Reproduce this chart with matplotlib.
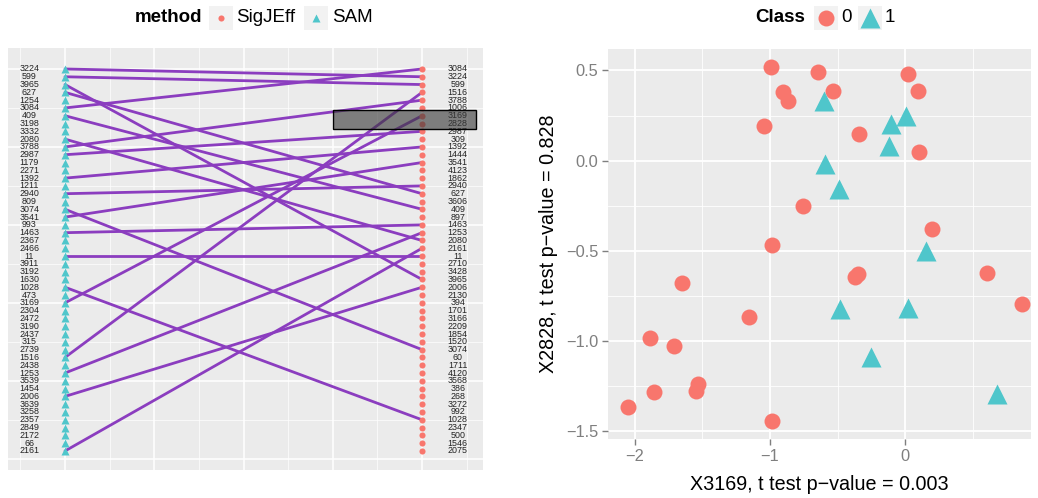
import matplotlib
matplotlib.use("Agg")
import matplotlib.pyplot as plt
from matplotlib.patches import Rectangle
import numpy as np

plt.rcParams['font.family'] = ['Liberation Sans', 'DejaVu Sans']

# ---------------- data ----------------
sam_ranks = [3224, 599, 3965, 627, 1254, 3084, 409, 3198, 3332, 2080, 3788, 2987, 1179,
             2271, 1392, 1211, 2940, 809, 3074, 3541, 993, 1463, 2367, 2466, 11, 3911,
             3192, 1630, 1028, 473, 3169, 2304, 2472, 3190, 2437, 315, 2739, 1516, 2438,
             1253, 3539, 1454, 2006, 3639, 3258, 2357, 2849, 2172, 66, 2161]
sigjeff_ranks = [3084, 3224, 599, 1516, 3788, 1006, 3169, 2828, 2987, 309, 1392, 1444,
                 3541, 4123, 1862, 2940, 627, 3606, 409, 897, 1463, 1253, 2080, 2161, 11,
                 2710, 3428, 3965, 2006, 2130, 394, 1701, 3166, 2209, 1854, 1520, 3074, 60,
                 1711, 4120, 3568, 386, 268, 3272, 992, 1028, 2347, 500, 1546, 2075]
highlight_genes = [3169, 2828]

class0_x = [-0.995, -0.902, -0.865, -1.044, -0.987, -0.643, -0.532, 0.020, 0.092, -0.340,
            0.099, -0.758, 0.200, -1.648, -1.153, -1.887, -1.710, -1.534, -1.547, -1.857,
            -2.052, -0.985, -0.370, -0.350, 0.604, 0.863]
class0_y = [0.517, 0.382, 0.332, 0.191, -0.467, 0.493, 0.388, 0.480, 0.386, 0.150,
            0.047, -0.251, -0.380, -0.679, -0.868, -0.981, -1.027, -1.237, -1.274, -1.281,
            -1.366, -1.442, -0.645, -0.630, -0.624, -0.796]
class1_x = [-0.603, -0.103, 0.007, -0.118, -0.596, -0.492, 0.153, -0.480, 0.022, -0.251, 0.680]
class1_y = [0.332, 0.203, 0.248, 0.083, -0.017, -0.159, -0.499, -0.823, -0.814, -1.086, -1.292]

x_title = "X3169, t test p\u2212value = 0.003"
y_title = "X2828, t test p\u2212value = 0.828"

RED = '#F8766D'
CYAN = '#4FC6CB'
PURPLE = '#8B3DBF'
PANEL = '#EBEBEB'

W, H = 1038, 498
fig = plt.figure(figsize=(W / 100, H / 100), dpi=100)

def frac(l, t, r, b):
    return [l / W, 1 - b / H, (r - l) / W, (b - t) / H]

# ---------------- left panel ----------------
ax1 = fig.add_axes(frac(8, 48, 483, 470))
ax1.set_facecolor(PANEL)
n = len(sam_ranks)
yv = np.arange(n, 0, -1)  # row 1 at top -> value n
ax1.set_xlim(0.8403, 2.1709)
ax1.set_ylim(-1.44, 52.69)
for v in np.arange(0, 51, 10):
    ax1.axhline(v, color='white', lw=1.1, zorder=0)
for v in np.arange(5, 50, 10):
    ax1.axhline(v, color='white', lw=0.5, zorder=0)
for xv in [1.0, 1.25, 1.5, 1.75, 2.0]:
    ax1.axvline(xv, color='white', lw=1.1, zorder=0)
for xv in [0.875, 1.125, 1.375, 1.625, 1.875, 2.125]:
    ax1.axvline(xv, color='white', lw=0.5, zorder=0)

pos_sig = {g: yv[i] for i, g in enumerate(sigjeff_ranks)}
for i, g in enumerate(sam_ranks):
    if g in pos_sig:
        ax1.plot([1, 2], [yv[i], pos_sig[g]], color=PURPLE, lw=2.0,
                 solid_capstyle='round', zorder=2)

ax1.plot(np.full(n, 1.0), yv, linestyle='none', marker='^', ms=5.2,
         color=CYAN, mec='none', zorder=3)
ax1.plot(np.full(n, 2.0), yv, linestyle='none', marker='o', ms=4.4,
         color=RED, mec='none', zorder=3)
for i in range(n):
    ax1.text(0.9, yv[i], str(sam_ranks[i]), ha='center', va='center',
             fontsize=6.4, color='#222222', zorder=4)
    ax1.text(2.1, yv[i], str(sigjeff_ranks[i]), ha='center', va='center',
             fontsize=6.4, color='#222222', zorder=4)

hl = [pos_sig[g] for g in highlight_genes]
ax1.add_patch(Rectangle((1.75, min(hl) - 0.75), 0.40, max(hl) - min(hl) + 1.5,
                        facecolor='#3a3a3a', alpha=0.62, edgecolor='none', zorder=5))
ax1.add_patch(Rectangle((1.75, min(hl) - 0.75), 0.40, max(hl) - min(hl) + 1.5,
                        facecolor='none', edgecolor='black', lw=1.0, zorder=6))
ax1.set_xticks([])
ax1.set_yticks([])
for s in ax1.spines.values():
    s.set_visible(False)

# ---------------- right panel ----------------
ax2 = fig.add_axes(frac(608, 49, 1031, 439))
ax2.set_facecolor(PANEL)
ax2.set_xlim(-2.197, 0.929)
ax2.set_ylim(-1.542, 0.619)
for xv in [-2, -1, 0]:
    ax2.axvline(xv, color='white', lw=1.3, zorder=0)
for xv in [-1.5, -0.5, 0.5]:
    ax2.axvline(xv, color='white', lw=0.6, zorder=0)
for v in [-1.5, -1.0, -0.5, 0.0, 0.5]:
    ax2.axhline(v, color='white', lw=1.3, zorder=0)
for v in [-1.25, -0.75, -0.25, 0.25]:
    ax2.axhline(v, color='white', lw=0.6, zorder=0)

ax2.plot(class0_x, class0_y, linestyle='none', marker='o', ms=11.5,
         color=RED, mec='none', zorder=3)
ax2.plot(class1_x, class1_y, linestyle='none', marker='^', ms=14.5,
         color=CYAN, mec='none', zorder=3)

ax2.set_xticks([-2, -1, 0])
ax2.set_xticklabels(['\u22122', '\u22121', '0'])
ax2.set_yticks([-1.5, -1.0, -0.5, 0.0, 0.5])
ax2.set_yticklabels(['\u22121.5', '\u22121.0', '\u22120.5', '0.0', '0.5'])
ax2.tick_params(axis='both', labelsize=11.8, colors='#7F7F7F', length=4, width=1,
                pad=3)
for s in ax2.spines.values():
    s.set_visible(False)
ax2.set_xlabel(x_title, fontsize=14.2, labelpad=8)
ax2.set_ylabel(y_title, fontsize=14.2, labelpad=6)

# ---------------- legends (drawn in pixel coords overlay) ----------------
ov = fig.add_axes([0, 0, 1, 1])
ov.set_xlim(0, W)
ov.set_ylim(H, 0)
ov.axis('off')

def key_box(xc, yc, size=24):
    ov.add_patch(Rectangle((xc - size / 2, yc - size / 2), size, size,
                           facecolor='#F2F2F2', edgecolor='none'))

# method legend
ov.text(135, 17.5, 'method', fontsize=13.5, fontweight='bold', ha='left', va='center')
key_box(220.5, 17.5)
ov.plot([220.5], [17.5], marker='o', ms=4.4, color=RED, mec='none', linestyle='none')
ov.text(236, 17.5, 'SigJEff', fontsize=13.5, ha='left', va='center')
key_box(315.5, 17.5)
ov.plot([315.5], [17.5], marker='^', ms=5.2, color=CYAN, mec='none', linestyle='none')
ov.text(332, 17.5, 'SAM', fontsize=13.5, ha='left', va='center')

# class legend
ov.text(805, 17.5, 'Class', fontsize=13.5, fontweight='bold', ha='right', va='center')
key_box(826, 17.5)
ov.plot([826], [17.5], marker='o', ms=11.5, color=RED, mec='none', linestyle='none')
ov.text(841.5, 17.5, '0', fontsize=13.5, ha='left', va='center')
key_box(869.5, 17.5)
ov.plot([869.5], [17.5], marker='^', ms=14.5, color=CYAN, mec='none', linestyle='none')
ov.text(885, 17.5, '1', fontsize=13.5, ha='left', va='center')

fig.savefig('out.png', dpi=100)
